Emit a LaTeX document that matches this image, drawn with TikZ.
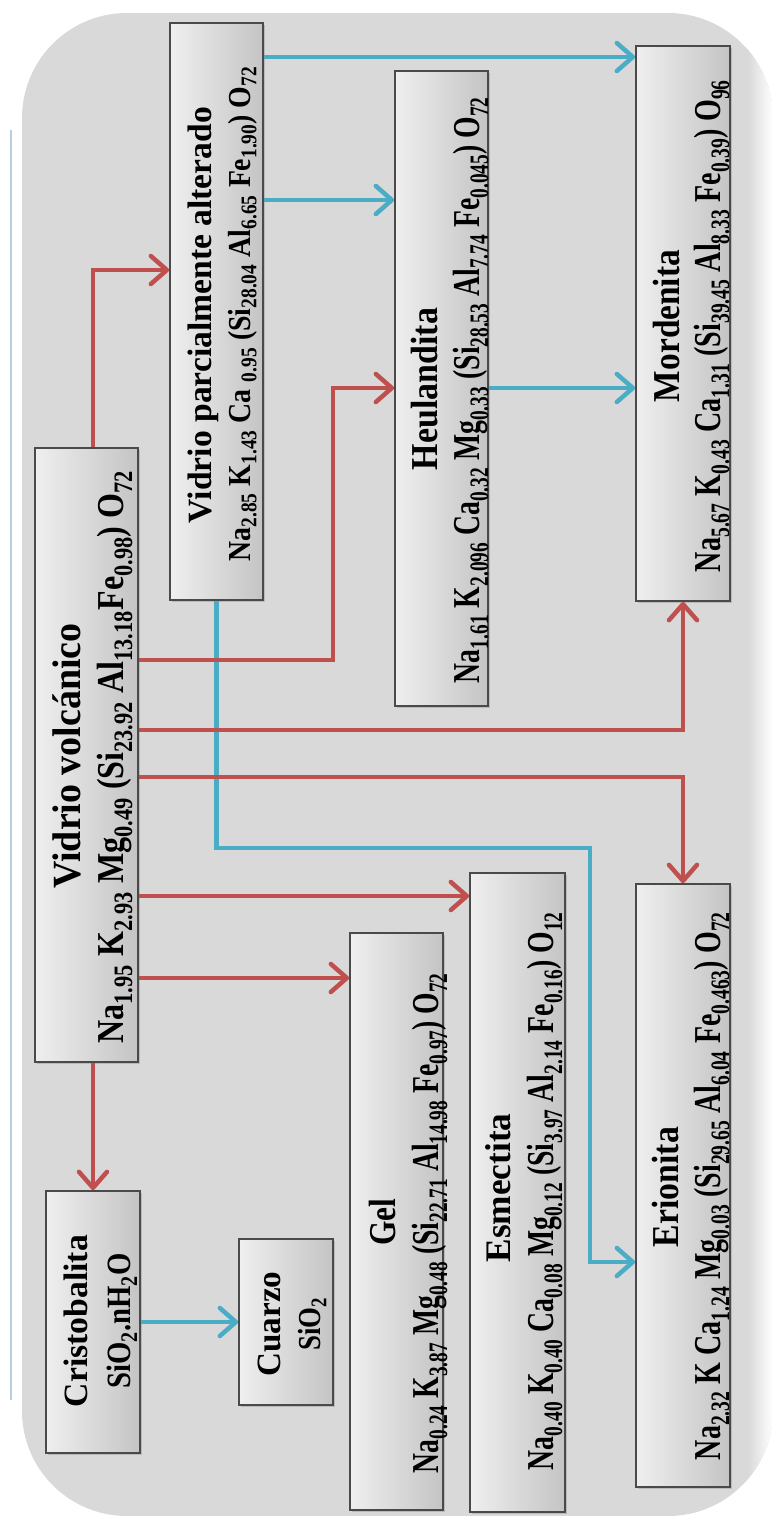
\documentclass[tikz,border=0pt]{standalone}
\usepackage{fontspec}
\setmainfont{Liberation Serif}
\usepackage{graphicx}
\usetikzlibrary{arrows.meta,shadows}

\definecolor{bg}{HTML}{D9D9D9}
\definecolor{redarr}{HTML}{C0504D}
\definecolor{bluearr}{HTML}{4BACC6}
\definecolor{boxline}{HTML}{4A4A4A}
\definecolor{boxlight}{HTML}{EFEFEF}
\definecolor{boxdark}{HTML}{C4C4C4}
\definecolor{edgeblue}{HTML}{B8CCE4}

% subscript and a line of bold text stretched to a given length
\newcommand\ix[1]{\textsubscript{#1}}
\newcommand\fitline[3]{\resizebox{#1}{\height}{\fontsize{#2pt}{#2pt}\selectfont\bfseries #3}}

\tikzset{
  mbox/.style={draw=boxline, line width=1.8pt, left color=boxlight, right color=boxdark,
               rectangle, inner sep=0pt,
               drop shadow={shadow xshift=1.5pt, shadow yshift=-1.5pt, opacity=.35}},
  txt/.style={rotate=90, anchor=base, inner sep=0pt, text=black},
  ra/.style={draw=redarr, line width=4.5pt, -{Straight Barb[length=16pt,width=28pt,round]}},
  ba/.style={draw=bluearr, line width=4.5pt, -{Straight Barb[length=16pt,width=28pt,round]}},
}

\begin{document}
\begin{tikzpicture}[x=1pt,y=-1pt]
\useasboundingbox (0,0) rectangle (783,1518);

% rounded grey panel with a light glow on its right side
\begin{scope}
  \clip[rounded corners=105pt] (22,13) rectangle (773,1516);
  \fill[bg] (22,13) rectangle (773,1516);
  \shade[left color=bg, right color=white] (748,13) rectangle (773,1516);
\end{scope}
\draw[edgeblue, line width=1.2pt] (11,130) -- (11,1400);

% boxes
\node[mbox, minimum width=103pt, minimum height=614pt] (vv)  at (86.5,755)   {};
\node[mbox, minimum width=93pt,  minimum height=577pt] (vp)  at (216.5,311.5) {};
\node[mbox, minimum width=93pt,  minimum height=635pt] (heu) at (441.5,388.5) {};
\node[mbox, minimum width=94pt,  minimum height=555pt] (mor) at (683,323.5)   {};
\node[mbox, minimum width=93pt,  minimum height=577pt] (gel) at (396.5,1221.5){};
\node[mbox, minimum width=95pt,  minimum height=639pt] (esm) at (517.5,1192.5){};
\node[mbox, minimum width=94pt,  minimum height=603pt] (eri) at (683,1185.5)  {};
\node[mbox, minimum width=94pt,  minimum height=262pt] (cri) at (93,1322)     {};
\node[mbox, minimum width=94pt,  minimum height=166pt] (cua) at (286,1322)    {};

% texts
\node[txt] (vvT)  at (80,756)   {\fitline{265pt}{40}{Vidrio volcánico}};
\node[txt] (vvF)  at (123,757)  {\fitline{573pt}{38}{Na\ix{1.95} K\ix{2.93} Mg\ix{0.49} (Si\ix{23.92} Al\ix{13.18}Fe\ix{0.98}) O\ix{72}}};
\node[txt] (vpT)  at (211,315)  {\fitline{416pt}{34}{Vidrio parcialmente alterado}};
\node[txt] (vpF)  at (250,314)  {\fitline{495pt}{32}{Na\ix{2.85} K\ix{1.43} Ca \ix{0.95} (Si\ix{28.04} Al\ix{6.65} Fe\ix{1.90}) O\ix{72}}};
\node[txt] (heuT) at (437,389)  {\fitline{162pt}{38}{Heulandita}};
\node[txt] (heuF) at (479,390)  {\fitline{586pt}{38}{Na\ix{1.61} K\ix{2.096} Ca\ix{0.32} Mg\ix{0.33} (Si\ix{28.53} Al\ix{7.74} Fe\ix{0.045}) O\ix{72}}};
\node[txt] (morT) at (679,326)  {\fitline{152pt}{38}{Mordenita}};
\node[txt] (morF) at (720,326)  {\fitline{492pt}{38}{Na\ix{5.67} K\ix{0.43} Ca\ix{1.31} (Si\ix{39.45} Al\ix{8.33} Fe\ix{0.39}) O\ix{96}}};
\node[txt] (gelT) at (395,1222) {\fitline{47pt}{38}{Gel}};
\node[txt] (gelF) at (438,1223) {\fitline{500pt}{38}{Na\ix{0.24} K\ix{3.87} Mg\ix{0.48} (Si\ix{22.71} Al\ix{14.98} Fe\ix{0.97}) O\ix{72}}};
\node[txt] (esmT) at (510,1188) {\fitline{149pt}{36}{Esmectita}};
\node[txt] (esmF) at (553,1191) {\fitline{558pt}{38}{Na\ix{0.40} K\ix{0.40} Ca\ix{0.08} Mg\ix{0.12} (Si\ix{3.97} Al\ix{2.14} Fe\ix{0.16}) O\ix{12}}};
\node[txt] (eriT) at (678,1187) {\fitline{120pt}{38}{Erionita}};
\node[txt] (eriF) at (720,1186) {\fitline{548pt}{38}{Na\ix{2.32} K Ca\ix{1.24} Mg\ix{0.03} (Si\ix{29.65} Al\ix{6.04} Fe\ix{0.463}) O\ix{72}}};
\node[txt] (criT) at (87,1321)  {\fitline{172pt}{34}{Cristobalita}};
\node[txt] (criF) at (130,1321) {\fitline{135pt}{34}{SiO\ix{2}.nH\ix{2}O}};
\node[txt] (cuaT) at (280,1324) {\fitline{105pt}{34}{Cuarzo}};
\node[txt] (cuaF) at (320,1324) {\fitline{53pt}{32}{SiO\ix{2}}};

% bend points
\coordinate (bHeu) at (333,388);
\coordinate (bEri) at (590,848);

% blue connectors
\draw[ba] (vp.east |- 0,57) -- (mor.west |- 0,57);
\draw[ba] (vp.east |- 0,200) -- (heu.west |- 0,200);
\draw[ba] (heu.east |- bHeu) -- (mor.west |- bHeu);
\draw[ba] (vp.south) |- (bEri) |- (eri.west |- 0,1262);
\draw[ba] (cri.east) -- (cua.west);

% red connectors
\draw[ra] (vv.north -| cri.north) |- (vp.west |- 0,270);
\draw[ra] (vv.east |- 0,660) -| (bHeu) -- (heu.west |- bHeu);
\draw[ra] (vv.east |- 0,730) -| (mor.south);
\draw[ra] (vv.east |- 0,777) -| (eri.north);
\draw[ra] (vv.east |- 0,896) -- (esm.west |- 0,896);
\draw[ra] (vv.east |- 0,978) -- (gel.west |- 0,978);
\draw[ra] (vv.south -| cri.north) -- (cri.north);
\end{tikzpicture}
\end{document}
